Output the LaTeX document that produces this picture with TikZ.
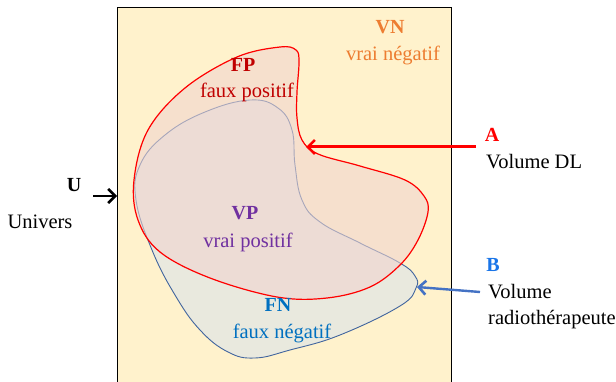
\documentclass[tikz,border=0pt]{standalone}
\usepackage{fontspec}
\setmainfont{Liberation Serif}
\usetikzlibrary{arrows.meta}
\definecolor{beige}{HTML}{FFF2CC}
\definecolor{vnc}{HTML}{ED7D31}
\definecolor{fpc}{HTML}{C00000}
\definecolor{vpc}{HTML}{7030A0}
\definecolor{fnc}{HTML}{0070C0}
\definecolor{bline}{HTML}{41659E}
\definecolor{bfill}{HTML}{E9E9DE}
\definecolor{rfill}{HTML}{F0D4CF}
\definecolor{barrow}{HTML}{4472C4}
\definecolor{bc}{HTML}{1A75E8}
\tikzset{
  lbl/.style={font=\fontsize{20.5}{22}\selectfont, inner sep=0pt},
  head/.style={font=\fontsize{20}{22}\selectfont\bfseries, inner sep=0pt},
  arr/.style={line width=3pt, -{Straight Barb[length=7pt,width=14pt,line width=2.6pt]}},
}
\begin{document}
\begin{tikzpicture}[x=1pt,y=-1pt]
\useasboundingbox (0,0) rectangle (616,382);
\fill[white] (0,0) rectangle (616,382);
% universe box
\draw[fill=beige, line width=0.8pt] (117,7) rectangle (451,390);
% blue shape (radiotherapist)
\draw[bline, fill=bfill, line width=0.9pt] plot[smooth cycle, tension=0.7] coordinates {
 (250,100) (278,108) (292,130) (295,165) (302,200) (320,222) (360,243) (400,263)
 (415,276) (416,288) (400,306) (340,335) (290,350) (255,358) (228,352) (200,330)
 (175,295) (152,250) (136,200) (140,165) (165,135) (205,112)};
% red shape (DL)
\fill[rfill, fill opacity=0.59] plot[smooth cycle, tension=0.6] coordinates {
 (299,62) (297,92) (297,118) (302,140) (318,154) (360,166) (405,180) (424,196)
 (428,212) (418,240) (400,265) (370,287) (327,298) (277,297) (210,278) (160,252)
 (138,220) (134,180) (148,130) (185,88) (237,57) (280,47) (296,50)};
\draw[red, line width=1.2pt] plot[smooth cycle, tension=0.6] coordinates {
 (299,62) (297,92) (297,118) (302,140) (318,154) (360,166) (405,180) (424,196)
 (428,212) (418,240) (400,265) (370,287) (327,298) (277,297) (210,278) (160,252)
 (138,220) (134,180) (148,130) (185,88) (237,57) (280,47) (296,50)};
% region labels
\node[head, text=vnc] (vn) at (390,27) {VN};
\node[lbl, text=vnc] (vnt) at (393,55) {vrai négatif};
\node[head, text=fpc] (fp) at (243,65) {FP};
\node[lbl, text=fpc] (fpt) at (247,92) {faux positif};
\node[head, text=vpc] (vp) at (245,213) {VP};
\node[lbl, text=vpc] (vpt) at (248,242) {vrai positif};
\node[head, text=fnc] (fn) at (278,305) {FN};
\node[lbl, text=fnc] (fnt) at (282,333) {faux négatif};
% side labels
\node[head, text=red] (a) at (492,135) {A};
\node[lbl, anchor=west] (at) at (486,162) {Volume DL};
\node[head, text=bc] (b) at (493,265) {B};
\node[lbl, anchor=west] (bt1) at (488,292) {Volume};
\node[lbl, anchor=west] (bt2) at (488,320) {radiothérapeute};
\node[head] (u) at (74,185) {U};
\node[lbl] (ut) at (40,222) {Univers};
% arrows
\coordinate (atail) at (476,147);
\coordinate (ahead) at (306,147);
\draw[arr, red] (atail) -- (ahead);
\coordinate (btail) at (480,292);
\coordinate (bhead) at (417,287);
\draw[arr, barrow, line width=2.4pt] (btail) -- (bhead);
\coordinate (utail) at (93,196);
\coordinate (uhead) at (117,196);
\draw[arr, black, line width=2.4pt] (utail) -- (uhead);
\end{tikzpicture}
\end{document}
